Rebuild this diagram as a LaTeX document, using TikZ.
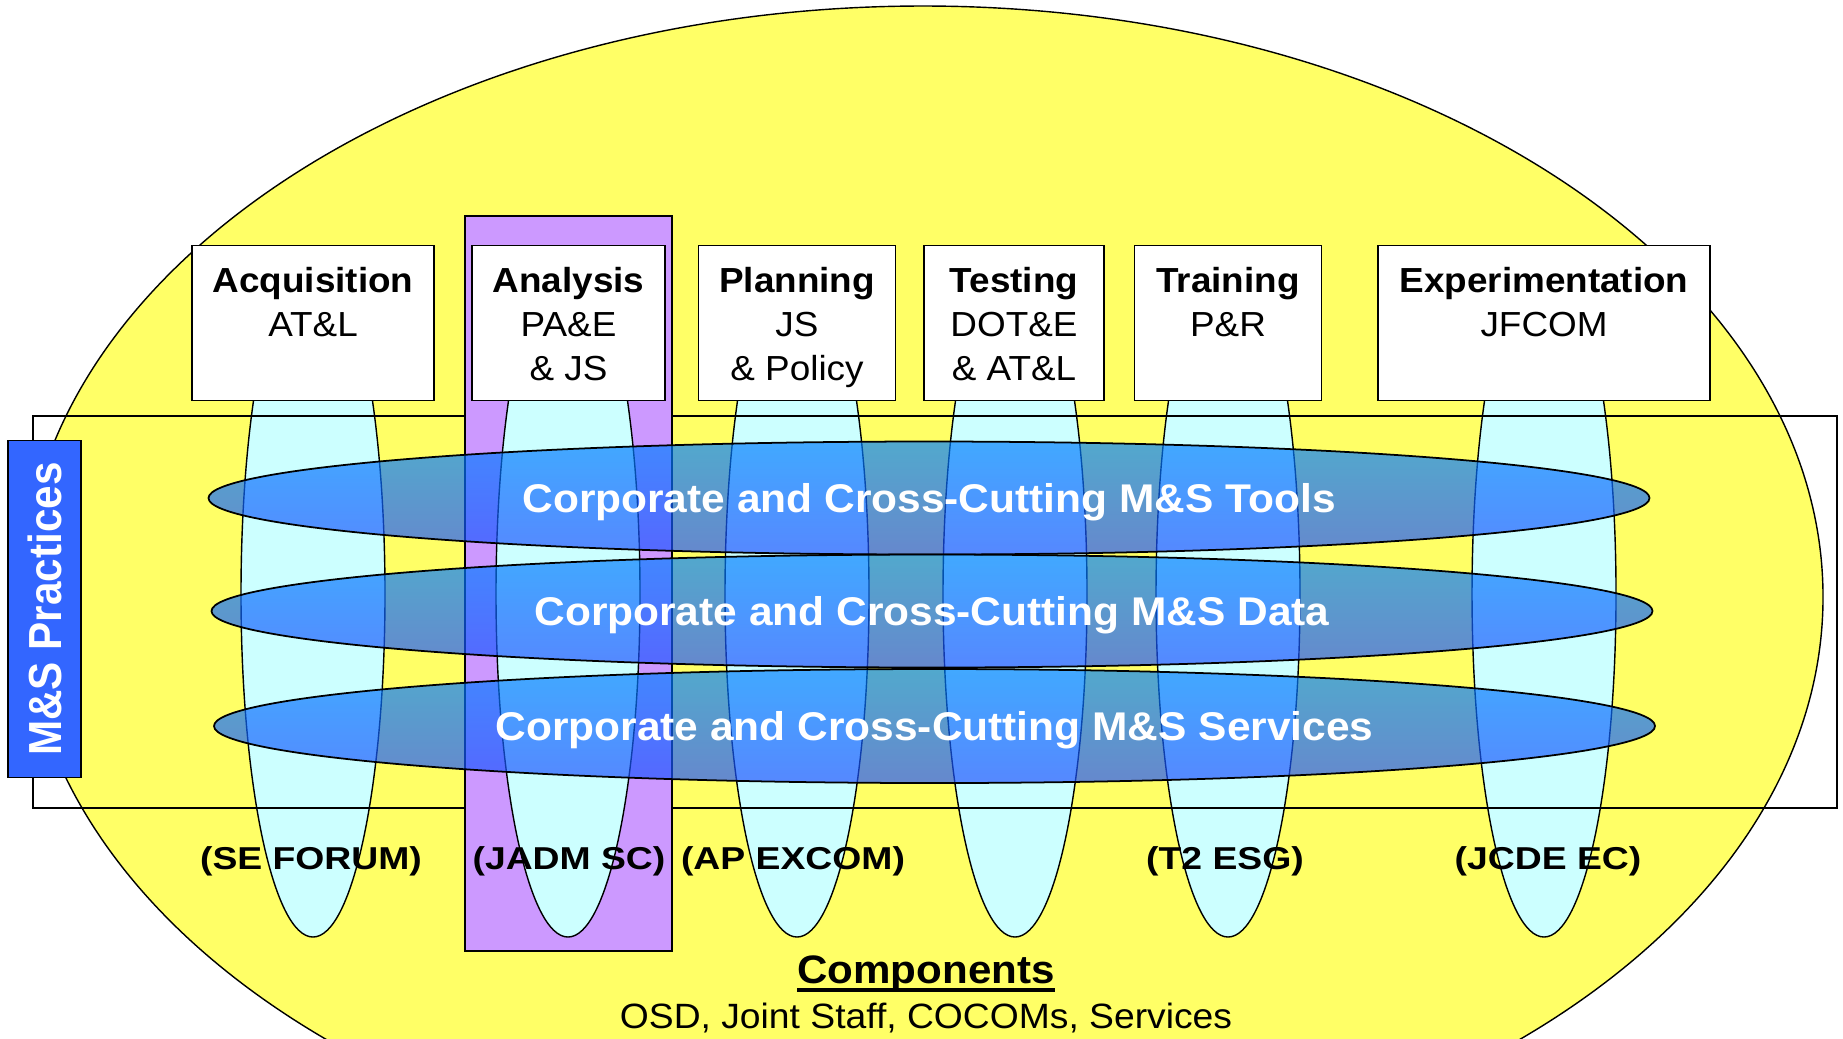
\documentclass[tikz,border=0pt]{standalone}
\usepackage{fontspec}
\setmainfont{Liberation Sans}[FakeStretch=1.06]
\newfontfamily\labelfont{Liberation Sans}[FakeStretch=1.18]
\newfontfamily\sidefont{Liberation Sans}[FakeStretch=0.91]
\usepackage{tikz}
\usetikzlibrary{shapes.geometric, positioning}
\definecolor{SlideYellow}{HTML}{FFFF66}
\definecolor{LegCyan}{HTML}{CCFFFF}
\definecolor{AnalysisPurple}{HTML}{CC99FF}
\definecolor{PracticeBlue}{HTML}{3366FF}
\definecolor{BandTop}{HTML}{0080FF}
\definecolor{BandBottom}{HTML}{1E50FF}
\newsavebox{\ulbox}
\newcommand{\thickul}[1]{\sbox{\ulbox}{#1}\rlap{\vrule height -1.5pt depth 2.65pt width \wd\ulbox}\usebox{\ulbox}}

\begin{document}
\begin{tikzpicture}
    \tikzstyle{area} = [draw=black, fill=SlideYellow]
    \tikzstyle{leg} = [draw=black, fill=LegCyan]
    \tikzstyle{dept} = [rectangle, draw=black, fill=white, anchor=north, minimum height=1.55cm, align=center, inner ysep=4.25pt, text height=34pt, text depth=1.6pt, font=\fontsize{9.9}{12.5}\selectfont]
    \tikzstyle{twoline} = [text height=21.5pt, text depth=14.1pt]
    \tikzstyle{band} = [ellipse, draw=black, line width=0.5pt, minimum width=14.41cm, minimum height=1.13cm, top color=BandTop, bottom color=BandBottom, fill opacity=0.68, text opacity=1, text=white, text depth=0pt, font=\fontsize{11.4}{13}\selectfont\bfseries]
    \tikzstyle{forum} = [anchor=base, font=\labelfont\fontsize{9}{11}\selectfont\bfseries]

    \useasboundingbox (0,0) rectangle (18.43,-10.38);
    \clip (0,0) rectangle (18.43,-10.38);

    % background
    \draw [area] (9.23,-5.97) ellipse (9.0 and 5.91);
    \foreach \x in {3.13, 7.97, 10.15, 12.28, 15.44}
        \draw [leg] (\x,-5.94) ellipse (0.72 and 3.43);
    \draw (0.33,-4.16) rectangle (18.37,-8.08);
    \draw [fill=AnalysisPurple] (4.65,-2.16) rectangle (6.72,-9.51);
    \draw [leg] (5.68,-5.94) ellipse (0.72 and 3.43);

    % communities
    \node (acq) [dept, twoline, minimum width=2.42cm] at (3.13,-2.45) {\textbf{Acquisition}\\AT\&L};
    \node (ana) [dept, minimum width=1.93cm] at (5.685,-2.45) {\textbf{Analysis}\\PA\&E\\\& JS};
    \node (plan) [dept, minimum width=1.97cm] at (7.97,-2.45) {\textbf{Planning}\\JS\\\& Policy};
    \node (test) [dept, minimum width=1.80cm] at (10.14,-2.45) {\textbf{Testing}\\DOT\&E\\\& AT\&L};
    \node (train) [dept, twoline, minimum width=1.87cm] at (12.28,-2.45) {\textbf{Training}\\P\&R};
    \node (exp) [dept, twoline, minimum width=3.32cm] at (15.44,-2.45) {\textbf{Experimentation}\\JFCOM};

    % cross-cutting bands
    \node (tools) [band] at (9.29,-4.98) {Corporate and Cross-Cutting M\&S Tools};
    \node (data) [band] at (9.32,-6.11) {Corporate and Cross-Cutting M\&S Data};
    \node (services) [band, minimum height=1.14cm] at (9.345,-7.26) {Corporate and Cross-Cutting M\&S Services};

    \node (practices) [rectangle, draw=black, fill=PracticeBlue, rotate=90, minimum width=3.37cm, minimum height=0.73cm, text=white, font=\sidefont\fontsize{13.2}{15}\selectfont\bfseries] at (0.445,-6.09) {M\&S Practices};

    % governance bodies
    \node (seforum) [forum] at (3.11,-8.69) {(SE FORUM)};
    \node (jadm) [forum] at (5.69,-8.69) {(JADM SC)};
    \node (apexcom) [forum] at (7.93,-8.69) {(AP EXCOM)};
    \node (esg) [forum] at (12.25,-8.69) {(T2 ESG)};
    \node (jcde) [forum] at (15.48,-8.69) {(JCDE EC)};

    \node (comp) [anchor=base, font=\fontsize{11.3}{13}\selectfont\bfseries] at (9.26,-9.83) {\thickul{Components}};
    \node (members) [anchor=base, font=\fontsize{10}{12}\selectfont] at ([yshift=-0.45cm]comp.base) {OSD, Joint Staff, COCOMs, Services};

\end{tikzpicture}
\end{document}
